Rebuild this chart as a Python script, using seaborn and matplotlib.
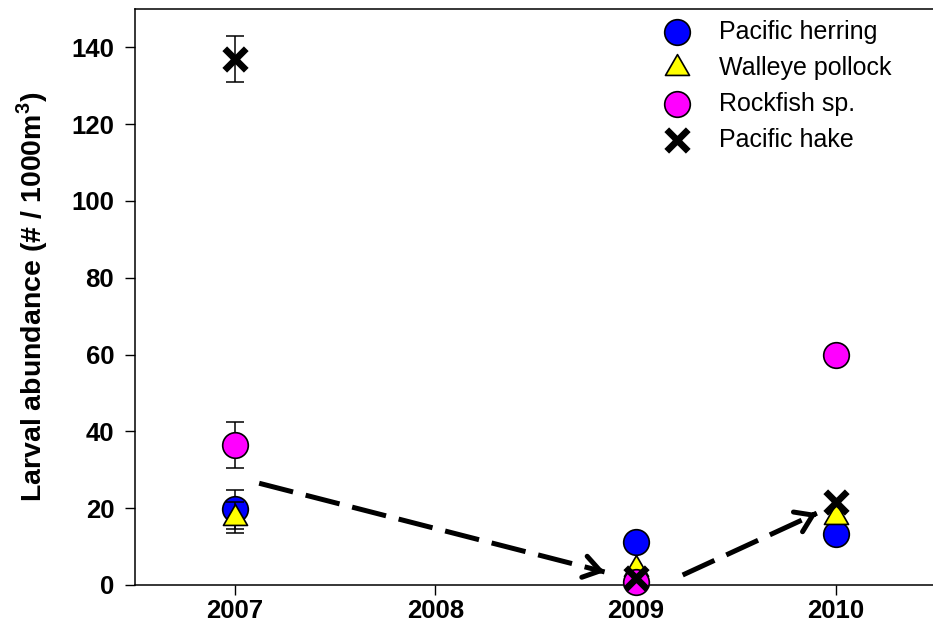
import numpy as np
import pandas as pd
import matplotlib
matplotlib.use("Agg")
import matplotlib.pyplot as plt
from matplotlib.path import Path
import seaborn as sns

# Larval abundance by year (# / 1000 m^3)
years = [2007, 2009, 2010]
species = ["Pacific herring", "Walleye pollock", "Rockfish sp.", "Pacific hake"]
herring = [19.7, 11.2, 13.3]
pollock = [17.5, 4.2, 17.6]
rockfish = [36.5, 0.8, 60.0]
hake = [137.0, 1.8, 21.7]
# standard errors (only 2007 has visible bars)
herring_err = [5.0, 0, 0]
pollock_err = [4.0, 0, 0]
rockfish_err = [6.0, 0, 0]
hake_err = [6.0, 0, 0]

xticks = [2007, 2008, 2009, 2010]
yticks = [0, 20, 40, 60, 80, 100, 120, 140]

# trend arrows: (x_start, y_start, x_end, y_end)
arrow_a = [2007.12, 26.5, 2008.845, 3.4]
arrow_b = [2009.235, 2.6, 2009.905, 18.7]

sns.set_theme(style="white")
plt.rcParams["font.family"] = ["Liberation Sans", "DejaVu Sans"]
plt.rcParams["mathtext.fontset"] = "custom"
plt.rcParams["mathtext.rm"] = "Liberation Sans"
plt.rcParams["mathtext.bf"] = "Liberation Sans:bold"
for key in ["text.color", "axes.labelcolor", "xtick.color", "ytick.color", "axes.edgecolor"]:
    plt.rcParams[key] = "black"

df = pd.DataFrame({
    "year": years * 4,
    "species": sum([[s] * 3 for s in species], []),
    "abundance": herring + pollock + rockfish + hake,
    "err": herring_err + pollock_err + rockfish_err + hake_err,
})

W, H = 933, 636
fig = plt.figure(figsize=(W / 100, H / 100), dpi=100)
ax = fig.add_axes([135 / W, 51 / H, 801 / W, 576 / H])

tri = Path([(-1, -0.577), (1, -0.577), (0, 1.155), (-1, -0.577)],
           [Path.MOVETO, Path.LINETO, Path.LINETO, Path.CLOSEPOLY])
styles = {
    "Pacific herring": dict(marker="o", color="#0000ff", s=340, edgecolor="black", linewidth=1.2),
    "Walleye pollock": dict(marker=tri, color="#ffff00", s=400, edgecolor="black", linewidth=1.2),
    "Rockfish sp.": dict(marker="o", color="#ff00ff", s=340, edgecolor="black", linewidth=1.2),
    "Pacific hake": dict(marker="x", color="black", s=240, linewidth=4.8),
}

for i, sp in enumerate(species):
    sub = df[df["species"] == sp]
    e = sub[sub["err"] > 0]
    ax.errorbar(e["year"], e["abundance"], yerr=e["err"], fmt="none",
                ecolor="black", elinewidth=1.1, capsize=6.5, capthick=1.1,
                zorder=2 + 2 * i)
    sns.scatterplot(x=sub["year"], y=sub["abundance"], ax=ax, label=sp,
                    clip_on=False, zorder=3 + 2 * i, **styles[sp])

# dashed trend arrows
for x0, y0, x1, y1 in (arrow_a, arrow_b):
    ax.plot([x0, x1], [y0, y1], color="black", lw=3.6,
            dashes=(7, 2.6), solid_capstyle="butt", dash_capstyle="butt", zorder=2)
    dx, dy = x1 - x0, y1 - y0
    ax.annotate("", xy=(x1, y1), xytext=(x1 - 0.02 * dx, y1 - 0.02 * dy),
                arrowprops=dict(arrowstyle="->,head_length=0.45,head_width=0.3",
                                lw=3.6, color="black",
                                mutation_scale=26, shrinkA=0, shrinkB=0),
                zorder=2)

ax.set_xlim(2006.5, 2010.5)
ax.set_ylim(0, 150)
ax.set_xticks(xticks)
ax.set_xticklabels([str(t) for t in xticks], fontsize=18.5, fontweight="bold")
ax.set_yticks(yticks)
ax.set_yticklabels([str(t) for t in yticks], fontsize=18.5, fontweight="bold")
ax.tick_params(axis="both", direction="out", length=7, width=1, color="black",
               bottom=True, left=True)
ax.tick_params(axis="x", pad=3)
ax.tick_params(axis="y", pad=8)
ax.set_xlabel("")
ax.set_ylabel(r"Larval abundance (# / 1000m$^{\mathbf{3}}$)",
              fontsize=20.5, fontweight="bold", labelpad=15)
for side in ["left", "bottom", "top", "right"]:
    ax.spines[side].set_visible(True)
    ax.spines[side].set_color("black")
    ax.spines[side].set_linewidth(1.1)

leg = ax.legend(loc="upper left", bbox_to_anchor=(664 / W, 1 - 20 / H),
                bbox_transform=fig.transFigure, frameon=False, fontsize=18,
                handlelength=1.0, handletextpad=1.2, labelspacing=0.48,
                borderpad=0, borderaxespad=0)

fig.savefig("out.png", dpi=100)
